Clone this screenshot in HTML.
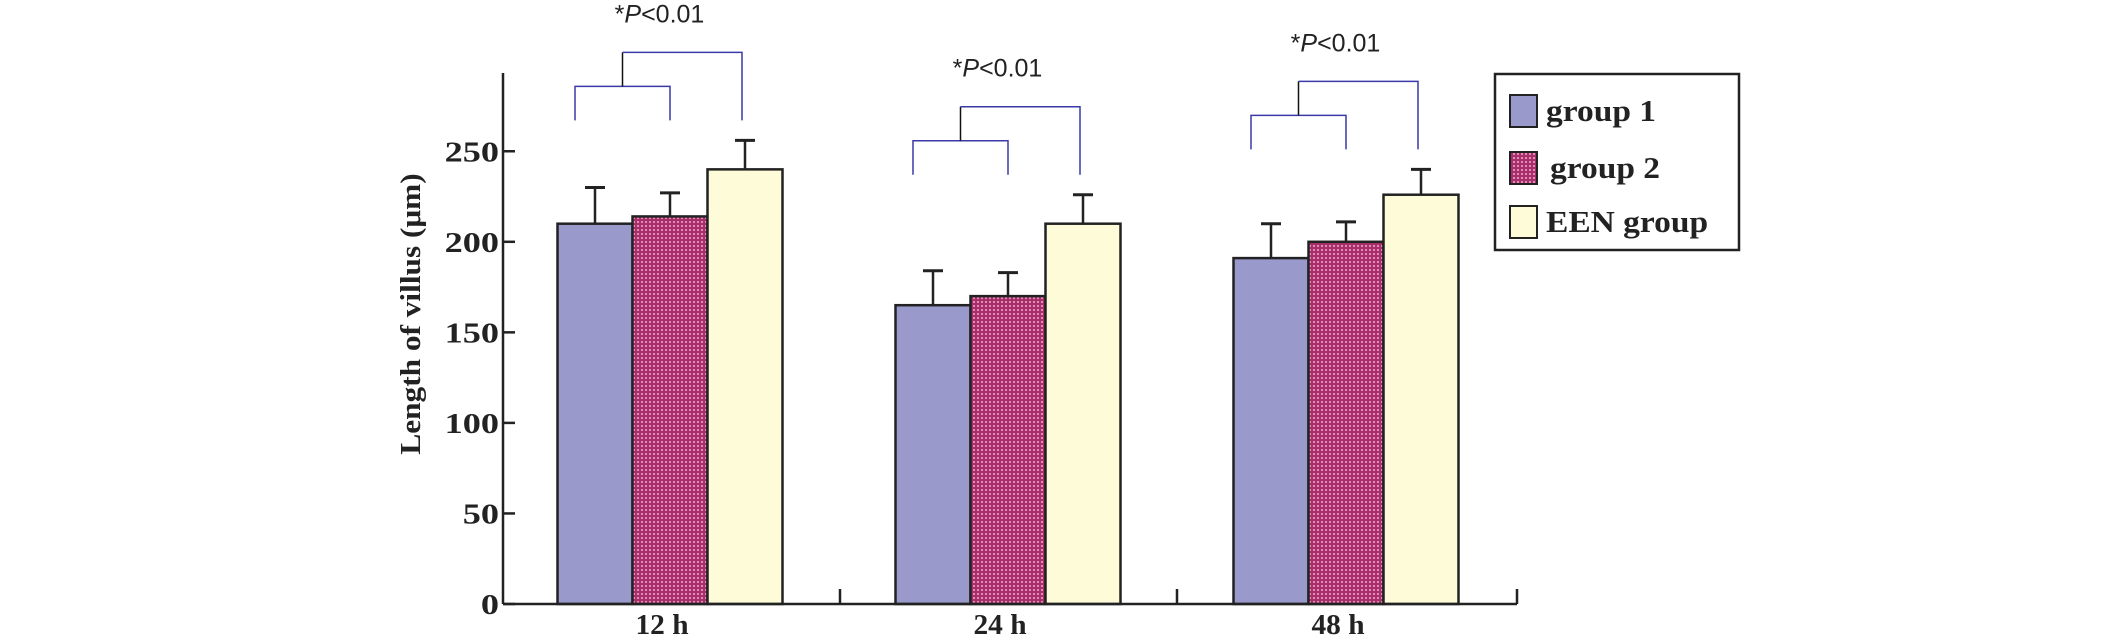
<!DOCTYPE html>
<html><head><meta charset="utf-8"><style>html,body{margin:0;padding:0;background:#fff}svg{display:block}</style></head>
<body>
<svg id="chart" width="2126" height="638" viewBox="0 0 2126 638" xmlns="http://www.w3.org/2000/svg">
<defs>
<pattern id="dots" width="4" height="4" patternUnits="userSpaceOnUse">
<rect width="4" height="4" fill="#a8306a"/><rect x="1" y="1" width="2" height="2" fill="#e48ab8"/>
</pattern>
</defs>
<g id="plot"></g>
</svg>
<script>
const categories = ["12 h", "24 h", "48 h"];
const seriesNames = ["group 1", "group 2", "EEN group"];
const group1 = [210, 165, 191];
const group2 = [214, 170, 200];
const een = [240, 210, 226];
const group1Err = [230, 184, 210];
const group2Err = [227, 183, 211];
const eenErr = [256, 226, 240];
const yTicks = [0, 50, 100, 150, 200, 250];
const pLabels = ["*P<0.01", "*P<0.01", "*P<0.01"];

const NS = "http://www.w3.org/2000/svg";
const g = document.getElementById("plot");
const x0 = 503, xEnd = 1517, yZero = 604, pxPerUnit = 1.811;
const y = v => yZero - v * pxPerUnit;
const groupCenter = i => 670 + i * 338;
const barW = 75;
const barX = (i, s) => groupCenter(i) - 1.5 * barW + s * barW;
function mk(tag, attrs, parent) {
  const e = document.createElementNS(NS, tag);
  for (const k in attrs) e.setAttribute(k, attrs[k]);
  (parent || g).appendChild(e);
  return e;
}
const fills = ["#9999cc", "url(#dots)", "#fdfbd8"];
const vals = [group1, group2, een];
const errs = [group1Err, group2Err, eenErr];

for (let s = 0; s < 3; s++) {
  for (let i = 0; i < categories.length; i++) {
    const bx = barX(i, s), top = y(vals[s][i]);
    const eb = mk("line", {x1: bx + barW/2, x2: bx + barW/2, y1: top, y2: y(errs[s][i]), stroke: "#222", "stroke-width": 2.5});
    
    
    const cap = mk("line", {x1: bx + barW/2 - 10, x2: bx + barW/2 + 10, y1: y(errs[s][i]), y2: y(errs[s][i]), stroke: "#222", "stroke-width": 3});
    
    
    const r = mk("rect", {x: bx, y: top, width: barW, height: yZero - top, fill: fills[s], stroke: "#222", "stroke-width": 2.5});
    
    
  }
}

const ya = mk("line", {x1: x0, x2: x0, y1: 73, y2: yZero, stroke: "#222", "stroke-width": 2.5});


const xa = mk("line", {x1: x0, x2: xEnd, y1: yZero, y2: yZero, stroke: "#222", "stroke-width": 2.5});


[840, 1177, 1517].forEach(tx => {
  const t = mk("line", {x1: tx, x2: tx, y1: yZero, y2: yZero - 15, stroke: "#222", "stroke-width": 2.5});
  
  
});
yTicks.forEach(v => {
  const t = mk("line", {x1: x0, x2: x0 + 12, y1: y(v), y2: y(v), stroke: "#222", "stroke-width": 2.5});
  
  
  const l = mk("text", {x: 0, y: 0, transform: `translate(499,${y(v) + 10}) scale(1.25,1)`, "text-anchor": "end", "font-family": "Liberation Serif, serif", "font-weight": "bold", "font-size": 29, fill: "#222"});
  l.textContent = v;
  
  
});
categories.forEach((c, i) => {
  const l = mk("text", {x: 0, y: 0, transform: `translate(${groupCenter(i) - 8},634) scale(1.05,1)`, "text-anchor": "middle", "font-family": "Liberation Serif, serif", "font-weight": "bold", "font-size": 28, fill: "#222"});
  l.textContent = c;
  
  
});
const yt = mk("text", {x: 0, y: 0, transform: "translate(420,314) rotate(-90) scale(1.08,1)", "text-anchor": "middle", "font-family": "Liberation Serif, serif", "font-weight": "bold", "font-size": 29, fill: "#222"});
yt.textContent = "Length of villus (\u03bcm)";



categories.forEach((c, i) => {
  const topVal = Math.max(group1Err[i], group2Err[i], eenErr[i]);
  const base = y(topVal) - 20;
  const c1 = barX(i, 0) + barW/2 - 20, c2 = barX(i, 1) + barW/2, c3 = barX(i, 2) + barW/2 - 3;
  const smallTop = base - 34, bigTop = smallTop - 34, mid = (c1 + c2) / 2;
  const sb = mk("path", {d: `M${c1},${base} V${smallTop} H${c2} V${base}`, fill: "none", stroke: "#3a3aa8", "stroke-width": 1.5});
  
  
  const stem = mk("line", {x1: mid, x2: mid, y1: smallTop, y2: bigTop, stroke: "#111", "stroke-width": 1.5});
  
  
  const bb = mk("path", {d: `M${mid},${bigTop} H${c3} V${base}`, fill: "none", stroke: "#3a3aa8", "stroke-width": 1.5});
  
  
  const t = mk("text", {x: mid + 37, y: bigTop - 30, "text-anchor": "middle", "font-family": "Liberation Sans, sans-serif", "font-size": 25, fill: "#222"});
  
  
  const parts = pLabels[i].match(/^(\*)(P)(.*)$/);
  const a = mk("tspan", {}, t); a.textContent = parts[1];
  const b = mk("tspan", {"font-style": "italic"}, t); b.textContent = parts[2];
  const d = mk("tspan", {}, t); d.textContent = parts[3];
});

const lg = mk("g", {});


mk("rect", {x: 1495, y: 74, width: 244, height: 176, fill: "#fff", stroke: "#222", "stroke-width": 2.5}, lg);
const rowsY = [111, 168, 222];
seriesNames.forEach((n, s) => {
  const sw = mk("rect", {x: 1510, y: rowsY[s] - 16, width: 27, height: 32, fill: fills[s], stroke: "#222", "stroke-width": 2}, lg);
  
  
  const t = mk("text", {x: 0, y: 0, transform: `translate(${s === 1 ? 1550 : 1546},${rowsY[s] + 10}) scale(1.08,1)`, "font-family": "Liberation Serif, serif", "font-weight": "bold", "font-size": 31, fill: "#222"}, lg);
  t.textContent = n;
  
  
});
</script>
</body></html>
